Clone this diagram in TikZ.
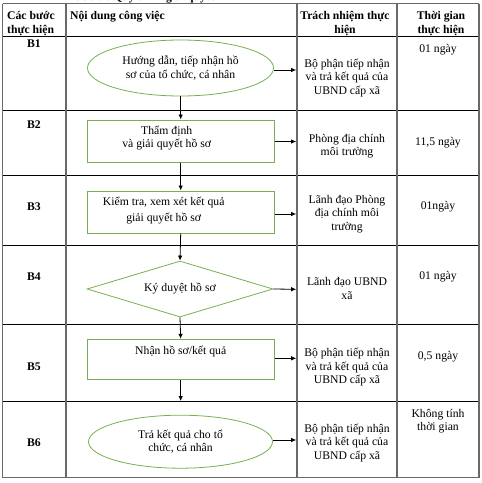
\documentclass[tikz,border=0pt]{standalone}
\usepackage{fontspec}
\setmainfont{Liberation Serif}
\usetikzlibrary{shapes.geometric,arrows.meta}
\definecolor{flowgreen}{RGB}{118,176,80}
\definecolor{gridgray}{RGB}{105,105,105}
\begin{document}
\begin{tikzpicture}[x=1pt,y=-1pt,
  every node/.style={font=\fontsize{11.7}{13.5}\selectfont, inner sep=0pt, align=center},
  hdr/.style={font=\fontsize{11.7}{14}\selectfont\bfseries},
  stepnum/.style={font=\fontsize{11.7}{14}\selectfont\bfseries},
  flowbox/.style={draw=flowgreen, line width=1pt, rectangle, minimum width=187pt},
  flowell/.style={draw=flowgreen, line width=0.8pt, ellipse},
  flowdia/.style={draw=flowgreen, line width=0.8pt, diamond, aspect=3.3, minimum width=186pt, minimum height=56pt},
  arr/.style={-{Latex[length=5pt,width=4.5pt]}, line width=0.8pt, draw=black},
  vgrid/.style={draw=gridgray, line width=1.5pt},
  hgrid/.style={draw=black, line width=0.8pt},
  celltext/.style={font=\fontsize{11.7}{13.5}\selectfont}]
\useasboundingbox (0,0) rectangle (482,483);

% cut-off title
\node[anchor=base west, font=\fontsize{11.7}{14}\selectfont\bfseries] (title) at (67,0.5) {II. Sơ đồ Quy trình giải quyết};

% grid
\draw[hgrid] (2.5,36.7) -- (479,36.7);
\draw[hgrid] (2.5,110) -- (479,110);
\draw[hgrid] (2.5,175) -- (479,175);
\draw[hgrid] (2.5,245.7) -- (479,245.7);
\draw[hgrid] (2.5,324) -- (479,324);
\draw[hgrid] (2.5,401.5) -- (479,401.5);
\draw[draw=gridgray, line width=1pt] (2.5,3.5) -- (479,3.5);
\draw[vgrid] (2.5,477.7) -- (479,477.7);
\foreach \xx in {2.5,66,297,397,479} \draw[vgrid] (\xx,3.5) -- (\xx,477.7);

% header
\node[hdr, anchor=west, align=left] (h1) at (7,23.5) {Các bước\\thực hiện};
\node[hdr, anchor=west] (h2) at (70,16.5) {Nội dung công việc};
\node[hdr] (h3) at (345,23.5) {Trách nhiệm thực\\hiện};
\node[hdr] (h4) at (441,23.5) {Thời gian\\thực hiện};

% step numbers
\node[stepnum] (s1) at (34,44) {B1};
\node[stepnum] (s2) at (34,125) {B2};
\node[stepnum] (s3) at (34,207) {B3};
\node[stepnum] (s4) at (34,277) {B4};
\node[stepnum] (s5) at (34,367) {B5};
\node[stepnum] (s6) at (34,443) {B6};

% flow shapes
\node[flowell, minimum width=186pt, minimum height=56pt] (e1) at (180.5,68) {Hướng dẫn, tiếp nhận hồ\\sơ của tổ chức, cá nhân};
\node[flowbox, minimum height=42pt,
  label={[name=b2t, xshift=-14pt, yshift=3pt, celltext]center:{Thẩm định\\và giải quyết hồ sơ}}] (b2) at (180.7,141) {};
\node[flowbox, minimum height=42pt,
  label={[name=b3t, xshift=-17pt, yshift=1.5pt, font=\fontsize{11.7}{15.3}\selectfont]center:{Kiểm tra, xem xét kết quả\\giải quyết hồ sơ}}] (b3) at (180.7,212) {};
\node[flowdia] (d4) at (180,289) {\raisebox{4pt}{Ký duyệt hồ sơ}};
\node[flowbox, minimum height=40pt,
  label={[name=b5t, yshift=7.5pt, celltext]center:{Nhận hồ sơ/kết quả}}] (b5) at (180.7,359.3) {};
\node[flowell, minimum width=184pt, minimum height=53pt] (e6) at (180.5,441.7) {Trả kết quả cho tổ\\chức, cá nhân};

% responsibility column
\node (r1) at (347,78) {Bộ phận tiếp nhận\\và trả kết quả của\\UBND cấp xã};
\node (r2) at (347,146) {Phòng địa chính\\môi trường};
\node (r3) at (347,214) {Lãnh đạo Phòng\\địa chính môi\\trường};
\node (r4) at (347,288.7) {Lãnh đạo UBND\\xã};
\node (r5) at (347,367.5) {Bộ phận tiếp nhận\\và trả kết quả của\\UBND cấp xã};
\node (r6) at (347,442.7) {Bộ phận tiếp nhận\\và trả kết quả của\\UBND cấp xã};

% time column
\node (t1) at (438,50) {01 ngày};
\node (t2) at (438,143) {11,5 ngày};
\node (t3) at (438,206.7) {01ngày};
\node (t4) at (438,277) {01 ngày};
\node (t5) at (438,356.7) {0,5 ngày};
\node (t6) at (438,421) {Không tính\\thời gian};

% arrow end points on the column line
\coordinate (a1) at (296.2,70);
\coordinate (a2) at (296.2,141.5);
\coordinate (a3) at (296.2,214);
\coordinate (a4) at (296.2,289.3);
\coordinate (a5) at (296.2,358.3);
\coordinate (a6) at (296.2,440);
\coordinate (endv) at (180.7,401);

\draw[arr] (e1.east |- a1) -- (a1);
\draw[arr] (b2.east |- a2) -- (a2);
\draw[arr] (b3.east |- a3) -- (a3);
\draw[arr] (d4.east) -- (a4);
\draw[arr] (b5.east |- a5) -- (a5);
\draw[arr] (e6.east |- a6) -- (a6);

\draw[arr] (e1.south -| b2.north) -- (b2.north);
\draw[arr] (b2.south) -- (b3.north);
\draw[arr] (b3.south) -- (d4.north);
\draw[arr] (d4.south) -- (b5.north);
\draw[arr] (b5.south) -- (endv);
\end{tikzpicture}
\end{document}
